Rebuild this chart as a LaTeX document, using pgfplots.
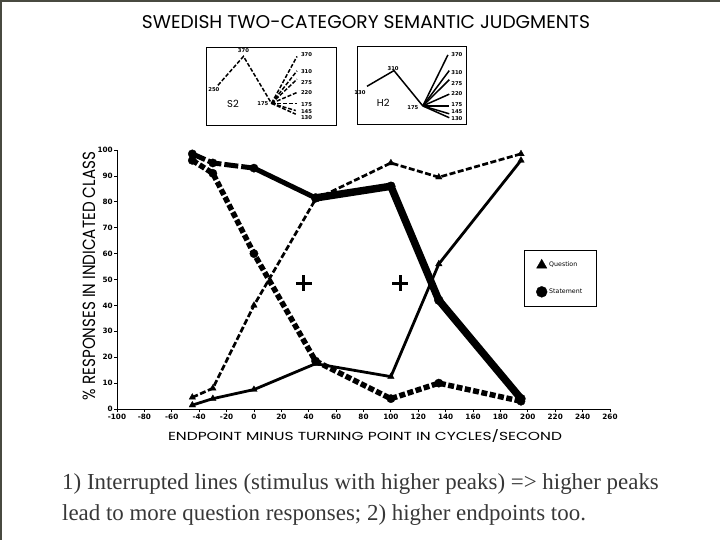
\documentclass[border=0pt]{standalone}
\usepackage{fontspec}
\usepackage{graphicx}
\usepackage{pgfplots}
\pgfplotsset{compat=1.18}
\setmainfont{Liberation Serif}
\newfontfamily\labfont{Poppins}
\newfontfamily\tickfont{DejaVu Sans}
\definecolor{framegray}{RGB}{72,74,64}
\definecolor{captiongray}{RGB}{55,55,55}
\pgfplotsset{
  sline/.style={black, mark=none, line width=1.5bp, dash pattern=on 4bp off 1.8bp},
  hline/.style={black, mark=none, line width=1.5bp, solid},
  inset/.style={scale only axis, ticks=none, clip=false,
    axis line style={line width=0.9bp},
    nodes={font=\tickfont\bfseries\fontsize{5.3}{6}\selectfont, inner sep=0}},
}

\begin{document}
\begin{tikzpicture}
\path[use as bounding box] (0,0) rectangle (720bp,-540bp);
\draw[framegray, line width=2bp] (1bp,-540bp) -- (1bp,-1bp) -- (720bp,-1bp);

% title
\node[inner sep=0] at (366bp,-22bp) {\resizebox{448bp}{13bp}{\labfont SWEDISH TWO-CATEGORY SEMANTIC JUDGMENTS}};

% inset S2 (higher peak, interrupted lines)
\begin{axis}[inset,
  at={(206bp,-125bp)}, anchor=south west, width=130bp, height=78bp,
  xmin=-0.47, xmax=4.63, ymin=85, ymax=409]
\addplot[sline] coordinates {(0,250) (1,370) (2.1,175)};
\addplot[sline] coordinates {(2.1,175) (3.1,370)};
\addplot[sline] coordinates {(2.1,175) (3.1,310)};
\addplot[sline] coordinates {(2.1,175) (3.1,275)};
\addplot[sline] coordinates {(2.1,175) (3.1,220)};
\addplot[sline] coordinates {(2.1,175) (3.1,175)};
\addplot[sline] coordinates {(2.1,175) (3.05,145)};
\addplot[sline] coordinates {(2.1,175) (3.05,130)};
\node at (axis cs:-0.16,232) {250};
\node at (axis cs:1,393) {370};
\node at (axis cs:1.76,175) {175};
\node[anchor=west] at (axis cs:3.25,376) {370};
\node[anchor=west] at (axis cs:3.25,305) {310};
\node[anchor=west] at (axis cs:3.25,260) {275};
\node[anchor=west] at (axis cs:3.25,219) {220};
\node[anchor=west] at (axis cs:3.25,168) {175};
\node[anchor=west] at (axis cs:3.25,139) {145};
\node[anchor=west] at (axis cs:3.25,116) {130};
\node[font=\labfont\fontsize{10}{12}\selectfont] at (axis cs:0.59,171) {S2};
\end{axis}

% inset H2
\begin{axis}[inset,
  at={(357bp,-124bp)}, anchor=south west, width=109bp, height=78bp,
  xmin=-0.37, xmax=3.67, ymin=106, ymax=404]
\addplot[hline] coordinates {(0,250) (1,310) (2.07,175)};
\addplot[hline] coordinates {(2.07,175) (3.0,370)};
\addplot[hline] coordinates {(2.07,175) (3.05,310)};
\addplot[hline] coordinates {(2.07,175) (3.05,275)};
\addplot[hline] coordinates {(2.07,175) (3.05,220)};
\addplot[hline] coordinates {(2.07,175) (3.05,175)};
\addplot[hline] coordinates {(2.07,175) (3.05,145)};
\addplot[hline] coordinates {(2.07,175) (3.05,130)};
\node at (axis cs:-0.26,225) {130};
\node at (axis cs:0.97,319) {310};
\node at (axis cs:1.7,170) {175};
\node[anchor=west] at (axis cs:3.12,370) {370};
\node[anchor=west] at (axis cs:3.12,301) {310};
\node[anchor=west] at (axis cs:3.12,262) {275};
\node[anchor=west] at (axis cs:3.12,221) {220};
\node[anchor=west] at (axis cs:3.12,179) {175};
\node[anchor=west] at (axis cs:3.12,152) {145};
\node[anchor=west] at (axis cs:3.12,125) {130};
\node[font=\labfont\fontsize{10}{12}\selectfont] at (axis cs:0.6,185) {H2};
\end{axis}

% main chart
\begin{axis}[
  at={(117bp,-409bp)}, anchor=south west,
  scale only axis, width=493bp, height=259bp,
  xmin=-100, xmax=260, ymin=0, ymax=100,
  axis x line=bottom, axis y line=left,
  axis line style={-, line width=1bp},
  xtick={-100,-80,...,260}, ytick={0,10,...,100},
  xticklabels={-100,-80,-60,-40,-20,0,20,40,60,80,100,120,140,160,180,200,220,240,260},
  yticklabels={0,10,20,30,40,50,60,70,80,90,100},
  tick align=outside, major tick length=3bp,
  tick style={line width=0.8bp, black},
  ticklabel style={font=\tickfont\bfseries\fontsize{7.3}{8}\selectfont},
  xticklabel style={inner sep=1.5bp},
  yticklabel style={inner sep=1bp},
  clip=false,
  legend style={at={(axis cs:197,61.5)}, anchor=north west, draw=black, line width=1bp,
    font=\tickfont\fontsize{6.3}{7}\selectfont, row sep=16bp, inner xsep=12bp, inner ysep=9bp},
  legend cell align=left,
]
\addlegendimage{only marks, mark=triangle*, mark size=6bp, black, mark options={line width=0.3bp}}
\addlegendentry{Question}
\addlegendimage{only marks, mark=*, mark size=5.5bp, black, mark options={line width=0.3bp}}
\addlegendentry{Statement}

% question, higher peak (interrupted)
\addplot[black, line width=2.7bp, dash pattern=on 6bp off 2.5bp, mark=triangle*, mark size=3.8bp, mark options={solid, line width=0.3bp}, forget plot]
  coordinates {(-45,4.5) (-30,8) (0,40) (45,81) (100,95) (135,89.5) (195,98.5)};
% question, lower peak (solid)
\addplot[black, line width=2.8bp, mark=triangle*, mark size=3.8bp, mark options={line width=0.3bp}, forget plot]
  coordinates {(-45,1.5) (-30,4) (0,7.5) (45,17.5) (100,12.5) (135,56) (195,96)};
% statement, higher peak (interrupted)
\addplot[black, line width=5.5bp, dash pattern=on 6bp off 2.5bp, mark=*, mark size=4.2bp, mark options={solid, line width=0.3bp}, forget plot]
  coordinates {(-45,96) (-30,91) (0,60) (45,18.5) (100,4) (135,10) (195,3)};
% statement, lower peak (solid)
\addplot[black, line width=5bp, dash pattern=on 14bp off 3bp, mark=*, mark size=4.2bp, mark options={solid, line width=0.3bp}, forget plot]
  coordinates {(-45,98.5) (-30,95) (0,93)};
\addplot[black, line width=5bp, forget plot]
  coordinates {(0,93) (45,81.5)};
\addplot[black, line width=7.5bp, mark=*, mark size=4.5bp, mark options={line width=0.3bp}, forget plot]
  coordinates {(45,81.5) (100,86) (135,42) (195,4)};
% plus signs
\addplot[only marks, mark=+, mark size=8bp, line width=3bp, black, forget plot]
  coordinates {(36.5,48.6) (107,48.6)};
\end{axis}

% axis titles
\node[inner sep=0] at (365bp,-435.5bp) {\resizebox{394bp}{11bp}{\labfont ENDPOINT MINUS TURNING POINT IN CYCLES/SECOND}};
\node[inner sep=0, rotate=90] at (89bp,-276bp) {\resizebox{248bp}{12.5bp}{\labfont \% RESPONSES IN INDICATED CLASS}};

% caption
\node[anchor=base west, inner sep=0, text=captiongray, font=\fontsize{23}{26}\selectfont] at (62bp,-489bp) {1) Interrupted lines (stimulus with higher peaks) => higher peaks};
\node[anchor=base west, inner sep=0, text=captiongray, font=\fontsize{23}{26}\selectfont] at (62bp,-520bp) {lead to more question responses; 2) higher endpoints too.};
\end{tikzpicture}
\end{document}
